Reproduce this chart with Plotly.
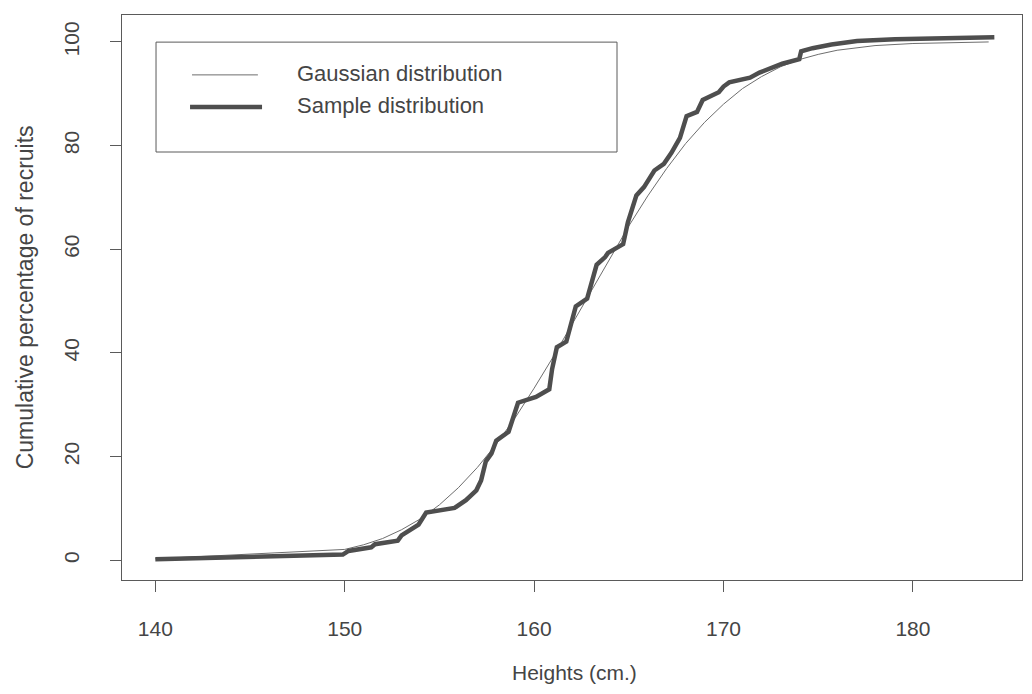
import plotly.graph_objects as go

sample_height = [140.0, 149.9, 150.2, 151.4, 151.6, 152.8, 153.0, 153.35, 153.9, 154.3,
                 154.9, 155.8, 156.4, 156.95, 157.2, 157.45, 157.75, 158.0, 158.65, 158.9,
                 159.15, 160.1, 160.8, 160.95, 161.2, 161.7, 161.95, 162.2, 162.8, 163.3,
                 163.75, 163.9, 164.7, 164.95, 165.4, 165.8, 166.35, 166.85, 167.25, 167.7,
                 168.05, 168.6, 168.9, 169.75, 170.0, 170.3, 171.4, 171.9, 173.1, 174.0,
                 174.1, 174.7, 175.7, 177.05, 179.05, 184.3]
sample_pct = [0.2, 1.1, 1.8, 2.5, 3.1, 3.8, 4.8, 5.7, 6.9, 9.2,
              9.5, 10.1, 11.6, 13.5, 15.4, 19.1, 20.6, 23.1, 24.8, 27.3,
              30.4, 31.5, 33.0, 36.9, 41.1, 42.2, 45.9, 49.0, 50.5, 57.0,
              58.5, 59.3, 61.0, 65.2, 70.4, 72.0, 75.2, 76.5, 78.6, 81.5,
              85.7, 86.5, 88.8, 90.3, 91.4, 92.2, 93.1, 94.1, 95.8, 96.7,
              98.2, 98.8, 99.5, 100.2, 100.5, 100.9]

# Gaussian (theoretical) cumulative curve
gauss_height = [140, 150, 151, 152, 153, 154, 155, 156, 157, 158, 159, 160, 161, 162,
                163, 164, 165, 166, 167, 168, 169, 170, 171, 172, 173, 174, 175, 176,
                177, 178, 180, 184]
gauss_pct = [0.3, 2.1, 3.0, 4.2, 5.9, 8.0, 10.7, 14.0, 17.9, 22.4, 27.5, 33.2, 39.2, 45.5,
             51.9, 58.3, 64.5, 70.3, 75.6, 80.4, 84.5, 88.0, 91.0, 93.3, 95.2, 96.6, 97.6, 98.4,
             98.9, 99.3, 99.7, 100.0]

x_ticks = [140, 150, 160, 170, 180]
y_ticks = [0, 20, 40, 60, 80, 100]

legend_labels = ["Gaussian distribution", "Sample distribution"]

TXT = "#454545"
AX = "#5a5a5a"
GAUSS_C = "#6e6e6e"
SAMPLE_C = "#4e4e4e"
FONT = "Liberation Sans, Arial, sans-serif"

fig = go.Figure()
fig.add_trace(go.Scatter(x=gauss_height, y=gauss_pct, mode="lines", name=legend_labels[0],
                         line=dict(color=GAUSS_C, width=1), showlegend=False))
fig.add_trace(go.Scatter(x=sample_height, y=sample_pct, mode="lines", name=legend_labels[1],
                         line=dict(color=SAMPLE_C, width=4.5), showlegend=False))

axis_common = dict(showgrid=False, zeroline=False, showline=True, mirror=True,
                   linecolor=AX, linewidth=1, ticks="outside", ticklen=11,
                   tickcolor=AX, tickwidth=1,
                   tickfont=dict(family=FONT, size=21, color=TXT))

fig.update_xaxes(range=[138.24, 185.76], tickvals=x_ticks,
                 ticktext=[str(v) for v in x_ticks], ticklabelstandoff=19, **axis_common)
fig.update_yaxes(range=[-3.8, 105.2], tickvals=y_ticks,
                 ticktext=[str(v) for v in y_ticks], tickangle=-90,
                 ticklabelstandoff=23, **axis_common)

# legend drawn as a framed box
shapes = [
    dict(type="rect", xref="paper", yref="paper", x0=0.0378, x1=0.55, y0=0.7575, y1=0.952,
         line=dict(color=AX, width=1), fillcolor="white"),
    dict(type="line", xref="paper", yref="paper", x0=0.0778, x1=0.151, y0=0.894, y1=0.894,
         line=dict(color=GAUSS_C, width=1)),
    dict(type="line", xref="paper", yref="paper", x0=0.0756, x1=0.1556, y0=0.837, y1=0.837,
         line=dict(color=SAMPLE_C, width=4.5)),
]
annotations = [
    dict(text=legend_labels[0], xref="paper", yref="paper", x=0.192, y=0.896,
         xanchor="left", yanchor="middle", showarrow=False,
         font=dict(family=FONT, size=22, color=TXT)),
    dict(text=legend_labels[1], xref="paper", yref="paper", x=0.192, y=0.839,
         xanchor="left", yanchor="middle", showarrow=False,
         font=dict(family=FONT, size=22, color=TXT)),
    dict(text="Heights (cm.)", xref="paper", yref="paper", x=0.503, y=-0.163,
         xanchor="center", yanchor="middle", showarrow=False,
         font=dict(family=FONT, size=21, color=TXT)),
    dict(text="Cumulative percentage of recruits", xref="paper", yref="paper",
         x=-0.108, y=0.5, xanchor="center", yanchor="middle", textangle=-90,
         showarrow=False, font=dict(family=FONT, size=23, color=TXT)),
]

# page body has an 8px margin, so the figure is sized to fit inside the window
fig.update_layout(width=1016, height=678, margin=dict(l=114, r=2, t=7, b=106),
                  plot_bgcolor="white", paper_bgcolor="white",
                  shapes=shapes, annotations=annotations, showlegend=False)

fig.write_html("out.html")
